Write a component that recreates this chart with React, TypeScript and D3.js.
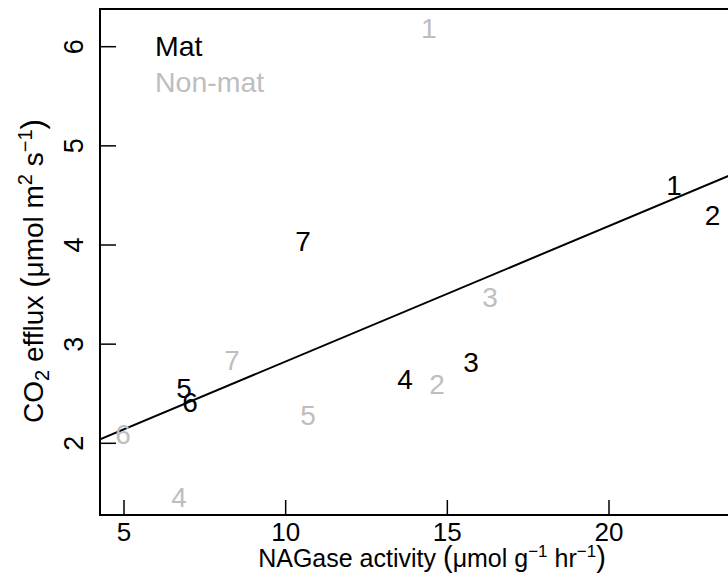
import React from "react";
import * as d3 from "d3";

const matLabels = ["1", "2", "3", "4", "5", "6", "7"];
const matX = [22.01, 23.2, 15.73, 13.69, 6.86, 7.04, 10.54];
const matY = [4.61, 4.3, 2.82, 2.65, 2.56, 2.42, 4.04];

const nonLabels = ["1", "2", "3", "4", "5", "6", "7"];
const nonX = [14.43, 14.68, 16.32, 6.7, 10.69, 4.97, 8.34];
const nonY = [6.19, 2.6, 3.48, 1.46, 2.29, 2.09, 2.84];

const xTicks = [5, 10, 15, 20];
const yTicks = [2, 3, 4, 5, 6];

const fitIntercept = 1.458;
const fitSlope = 0.1367;

const W = 728;
const H = 588;
const box = { left: 100, top: 9, right: 790, bottom: 515 };

export default function App() {
  const x = d3.scaleLinear().domain([5, 20]).range([124, 609]);
  const y = d3.scaleLinear().domain([2, 6]).range([443.3, 46.7]);
  const font = "'Liberation Sans', Arial, Helvetica, sans-serif";
  const grey = "#bebebe";

  const x0 = x.invert(box.left);
  const x1 = x.invert(W + 5);
  const line = d3
    .line<number>()
    .x((d) => x(d))
    .y((d) => y(fitIntercept + fitSlope * d));

  return (
    <svg
      width={W}
      height={H}
      style={{ position: "absolute", left: 0, top: 0, background: "#fff" }}
      fontFamily={font}
    >
      <defs>
        <clipPath id="plotclip">
          <rect x={box.left} y={box.top} width={box.right - box.left} height={box.bottom - box.top} />
        </clipPath>
      </defs>
      <rect x={0} y={0} width={W} height={H} fill="#fff" />
      <rect
        x={box.left}
        y={box.top}
        width={box.right - box.left}
        height={box.bottom - box.top}
        fill="none"
        stroke="#000"
        strokeWidth={2}
      />
      {xTicks.map((t) => (
        <g key={"xt" + t}>
          <line x1={x(t)} x2={x(t)} y1={box.bottom} y2={box.bottom - 15} stroke="#000" strokeWidth={1.5} />
          <text x={x(t)} y={541} fontSize={26} textAnchor="middle" fill="#000">
            {t}
          </text>
        </g>
      ))}
      {yTicks.map((t) => (
        <g key={"yt" + t}>
          <line x1={box.left} x2={box.left + 16} y1={y(t)} y2={y(t)} stroke="#000" strokeWidth={1.5} />
          <text
            transform={`translate(83,${y(t)}) rotate(-90)`}
            fontSize={27}
            textAnchor="middle"
            fill="#000"
          >
            {t}
          </text>
        </g>
      ))}
      <path
        d={line([x0, x1]) || ""}
        fill="none"
        stroke="#000"
        strokeWidth={2}
        clipPath="url(#plotclip)"
      />
      {nonLabels.map((l, i) => (
        <text
          key={"n" + i}
          x={x(nonX[i])}
          y={y(nonY[i])}
          dy="0.36em"
          fontSize={28}
          textAnchor="middle"
          fill={grey}
        >
          {l}
        </text>
      ))}
      {matLabels.map((l, i) => (
        <text
          key={"m" + i}
          x={x(matX[i])}
          y={y(matY[i])}
          dy="0.36em"
          fontSize={28}
          textAnchor="middle"
          fill="#000"
        >
          {l}
        </text>
      ))}
      <text x={155} y={56} fontSize={28.5} fill="#000">
        Mat
      </text>
      <text x={155} y={92} fontSize={28.5} fill={grey}>
        Non-mat
      </text>
      <text x={432} y={567} fontSize={25} textAnchor="middle" fill="#000">
        NAGase activity <tspan fontSize={29}>(</tspan>μmol g
        <tspan dy={-10} fontSize={17}>−1</tspan>
        <tspan dy={10}> hr</tspan>
        <tspan dy={-10} fontSize={17}>−1</tspan>
        <tspan dy={10} fontSize={29}>)</tspan>
      </text>
      <text
        transform={`translate(43,271) rotate(-90)`}
        fontSize={28}
        textAnchor="middle"
        fill="#000"
      >
        CO
        <tspan dy={6} fontSize={20}>2</tspan>
        <tspan dy={-6}> efflux <tspan fontSize={31}>(</tspan>μmol m</tspan>
        <tspan dy={-11} fontSize={20}>2</tspan>
        <tspan dy={11}> s</tspan>
        <tspan dy={-11} fontSize={20}>−1</tspan>
        <tspan dy={11} fontSize={31}>)</tspan>
      </text>
    </svg>
  );
}
